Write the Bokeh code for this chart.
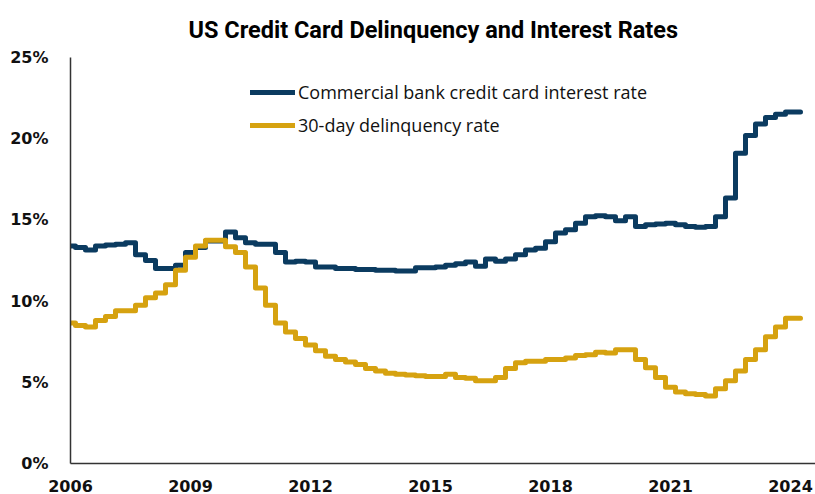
from bokeh.plotting import figure
from bokeh.models import FixedTicker, Legend, LegendItem, ColumnDataSource, Range1d
from bokeh.embed import file_html
from bokeh.resources import INLINE

title_text = "US Credit Card Delinquency and Interest Rates"
series_names = ["Commercial bank credit card interest rate", "30-day delinquency rate"]

start_year = 2006.0
quarter = 0.25

interest_rate = [
    13.4, 13.3, 13.15, 13.4, 13.45, 13.5, 13.6, 12.85, 12.5, 12.0,
    12.0, 12.2, 13.0, 13.3, 13.7, 13.7, 14.25, 13.9, 13.6,
    13.5, 13.5, 13.0, 12.4, 12.45, 12.4, 12.1, 12.1, 12.0, 12.0,
    11.95, 11.95, 11.9, 11.9, 11.85, 11.85, 12.05, 12.05, 12.1, 12.2,
    12.3, 12.4, 12.15, 12.6, 12.45, 12.6, 12.85, 13.15, 13.25, 13.65,
    14.2, 14.4, 14.8, 15.2, 15.25, 15.2, 14.95, 15.2, 14.6, 14.7,
    14.75, 14.8, 14.7, 14.6, 14.55, 14.6, 15.2, 16.35, 19.1, 20.2,
    20.9, 21.3, 21.5, 21.65, 21.65,
]

delinquency_rate = [
    8.65, 8.5, 8.4, 8.8, 9.05, 9.4, 9.4, 9.75, 10.2, 10.5,
    11.0, 11.9, 12.7, 13.4, 13.75, 13.75, 13.35, 13.0, 12.1, 10.8,
    9.75,
    8.65, 8.1, 7.7, 7.3, 6.95, 6.6, 6.4, 6.25, 6.1, 5.85,
    5.7, 5.55, 5.5, 5.45, 5.4, 5.35, 5.35, 5.5, 5.3, 5.25,
    5.1, 5.1, 5.3, 5.85, 6.2, 6.3, 6.3, 6.4, 6.4, 6.5,
    6.65, 6.7, 6.85, 6.8, 7.0, 7.0, 6.4, 5.9, 5.3, 4.7,
    4.4, 4.3, 4.25, 4.15, 4.6, 5.1, 5.7, 6.4, 7.0, 7.8,
    8.4, 8.95, 8.95,
]

x_ticks = [2006, 2009, 2012, 2015, 2018, 2021, 2024]
x_tick_labels = ["2006", "2009", "2012", "2015", "2018", "2021", "2024"]
y_ticks = [0, 5, 10, 15, 20, 25]
y_tick_labels = ["0%", "5%", "10%", "15%", "20%", "25%"]

dates = [start_year + quarter * i for i in range(len(interest_rate))]
src = ColumnDataSource(dict(date=dates, rate=interest_rate, delinq=delinquency_rate))

NAVY = "#0b3b60"
GOLD = "#d6a210"

p = figure(width=815, height=494, output_backend="svg", toolbar_location=None,
           x_range=Range1d(2006, 2024.625), y_range=Range1d(0, 25),
           min_border_left=70, min_border_right=0, min_border_top=56, min_border_bottom=31)

p.title.text = title_text
p.title.align = "left"
p.title.offset = 118
p.title.standoff = 27
p.title.text_line_height = 1.0
p.title.text_font = "Roboto"
p.title.text_font_size = "23.5px"
p.title.text_font_style = "bold"
p.title.text_color = "#000000"

p.outline_line_color = None
p.background_fill_color = "white"
p.border_fill_color = "white"
p.xgrid.visible = False
p.ygrid.visible = False

for ax in (p.xaxis[0], p.yaxis[0]):
    ax.axis_line_color = "#333333"
    ax.axis_line_width = 1.5
    ax.major_tick_line_color = None
    ax.minor_tick_line_color = None
    ax.major_label_text_font = "DejaVu Sans"
    ax.major_label_text_font_style = "bold"
    ax.major_label_text_font_size = "16px"
    ax.major_label_text_color = "#111111"

p.xaxis[0].ticker = FixedTicker(ticks=x_ticks)
p.xaxis[0].major_label_overrides = dict(zip(x_ticks, x_tick_labels))
p.xaxis[0].major_label_standoff = 10
p.yaxis[0].ticker = FixedTicker(ticks=y_ticks)
p.yaxis[0].major_label_overrides = dict(zip(y_ticks, y_tick_labels))
p.yaxis[0].major_label_standoff = 16

r1 = p.step("date", "rate", source=src, mode="center", line_width=5, line_color=NAVY,
            line_join="round", line_cap="round")
r2 = p.step("date", "delinq", source=src, mode="center", line_width=5, line_color=GOLD,
            line_join="round", line_cap="round")

legend = Legend(items=[LegendItem(label=series_names[0], renderers=[r1]),
                       LegendItem(label=series_names[1], renderers=[r2])],
                location=(180, 323), orientation="vertical")
legend.padding = 0
legend.margin = 0
legend.spacing = 3
legend.glyph_width = 45
legend.glyph_height = 30
legend.label_height = 30
legend.label_standoff = 3
legend.border_line_color = None
legend.background_fill_alpha = 0
legend.label_text_font = "Open Sans"
legend.label_text_font_size = "18px"
legend.label_text_color = "#111111"
p.add_layout(legend, "center")

open("out.html", "w").write(file_html(p, INLINE))
